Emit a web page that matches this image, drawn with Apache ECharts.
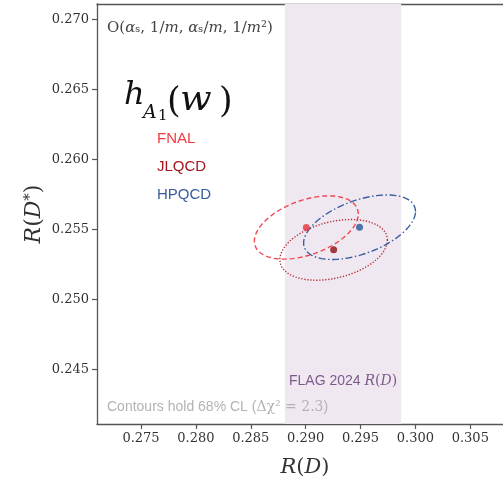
<!DOCTYPE html>
<html>
<head>
<meta charset="utf-8">
<script src="https://cdn.jsdelivr.net/npm/echarts@6/dist/echarts.min.js"></script>
<style>html,body{margin:0;padding:0;background:#fff}#c{width:503px;height:480px}</style>
</head>
<body>
<div id="c"></div>
<script>
// ---- data ----
const groups = ['FNAL', 'JLQCD', 'HPQCD'];
const rD = [0.29006, 0.29255, 0.29491];        // central R(D)
const rDstar = [0.25514, 0.25354, 0.25516];    // central R(D*)
const sigRD = [0.00312, 0.00323, 0.00336];     // 1-sigma R(D)
const sigRDstar = [0.00149, 0.00143, 0.00152]; // 1-sigma R(D*)
const corr = [0.43, 0.32, 0.49];               // correlation
const deltaChi2 = 2.3;
const flagBand = [0.2881, 0.2987];             // FLAG 2024 R(D) band
const xTicks = [0.275, 0.280, 0.285, 0.290, 0.295, 0.300, 0.305];
const yTicks = [0.245, 0.250, 0.255, 0.260, 0.265, 0.270];
const xRange = [0.27099, 0.30798];
const yRange = [0.24109, 0.27112];

// ---- styles ----
const lineColors = ['#f0484f', '#b4323a', '#3a5f9e'];
const pointColors = ['#e8303a', '#8c0c14', '#2a5598'];
const labelColors = ['#f03a44', '#a3161c', '#3a5c9c'];
const dashes = [[5, 3], [1.3, 1.7], [7, 2.5, 1.5, 2.5]];

const chart = echarts.init(document.getElementById('c'), null, {renderer: 'canvas'});

const ellipseData = groups.map((g, i) => [rD[i], rDstar[i], sigRD[i], sigRDstar[i], corr[i]]);
const pointData = groups.map((g, i) => ({value: [rD[i], rDstar[i]], itemStyle: {color: pointColors[i]}}));

const serif = '"DejaVu Serif", "Liberation Serif", serif';
const sans = '"Liberation Sans", Arial, sans-serif';
const purple = '#7d5a8c';
const grey = '#b3b3b3';

const graphics = [
  {type: 'text', z: 100, x: 107, y: 28, style: {
    text: '{r|O(}{i|α}{r|ₛ, 1/}{i|m}{r|, }{i|α}{r|ₛ/}{i|m}{r|, 1/}{i|m}{r|²)}', verticalAlign: 'middle',
    rich: {r: {font: '15px ' + serif, fill: '#444'}, i: {font: 'italic 15px ' + serif, fill: '#444'}}
  }},
  // h_{A_1}(w)
  {type: 'text', z: 100, x: 124, y: 96, style: {text: 'h', font: 'italic 32px ' + serif, fill: '#111', verticalAlign: 'middle'}},
  {type: 'text', z: 100, x: 143, y: 113, style: {text: 'A', font: 'italic 19px ' + serif, fill: '#111', verticalAlign: 'middle'}},
  {type: 'text', z: 100, x: 158, y: 116, style: {text: '1', font: '15px ' + serif, fill: '#111', verticalAlign: 'middle'}},
  {type: 'text', z: 100, x: 167, y: 103, style: {text: '(', font: '35px ' + serif, fill: '#111', verticalAlign: 'middle'}},
  {type: 'text', z: 100, x: 180, y: 101, scaleX: 1.12, style: {text: 'w', font: 'italic 33px ' + serif, fill: '#111', verticalAlign: 'middle'}},
  {type: 'text', z: 100, x: 219, y: 103, style: {text: ')', font: '35px ' + serif, fill: '#111', verticalAlign: 'middle'}},
  {type: 'text', z: 100, x: 157, y: 139, style: {text: groups[0], font: '15px ' + sans, fill: labelColors[0], verticalAlign: 'middle'}},
  {type: 'text', z: 100, x: 157, y: 167, style: {text: groups[1], font: '15px ' + sans, fill: labelColors[1], verticalAlign: 'middle'}},
  {type: 'text', z: 100, x: 157, y: 195, style: {text: groups[2], font: '15px ' + sans, fill: labelColors[2], verticalAlign: 'middle'}},
  {type: 'text', z: 100, x: 289, y: 381, style: {
    text: '{a|FLAG 2024 }{b|R}{c|(}{b|D}{c|)}', verticalAlign: 'middle',
    rich: {a: {font: '14px ' + sans, fill: purple}, b: {font: 'italic 14px ' + serif, fill: purple}, c: {font: '14px ' + serif, fill: purple}}
  }},
  {type: 'text', z: 100, x: 107, y: 407, style: {
    text: '{a|Contours hold 68% CL (}{b|Δχ² = 2.3}{a|)}', verticalAlign: 'middle',
    rich: {a: {font: '14px ' + sans, fill: grey}, b: {font: '14px ' + serif, fill: grey}}
  }}
];

const axisLineStyle = {color: '#555', width: 1.3};

const option = {
  animation: false,
  backgroundColor: '#fff',
  grid: {left: 97, right: 0, top: 4, bottom: 56, show: false, containLabel: false, outerBoundsMode: 'none'},
  xAxis: [{
    type: 'value', min: xRange[0], max: xRange[1],
    name: '{i|R}{n|(}{i|D}{n|)}', nameLocation: 'middle', nameGap: 33,
    nameTextStyle: {padding: [0, 0, 0, 10], rich: {i: {fontFamily: serif, fontStyle: 'italic', fontSize: 21, color: '#333'}, n: {fontFamily: serif, fontSize: 21, color: '#333'}}},
    axisLine: {show: true, onZero: false, lineStyle: axisLineStyle},
    axisTick: {show: true, length: 5, customValues: xTicks, lineStyle: {color: '#555', width: 1.2}},
    axisLabel: {customValues: xTicks, formatter: v => v.toFixed(3), fontFamily: serif, fontSize: 13, color: '#333', margin: 8},
    splitLine: {show: false}
  }, {
    type: 'value', position: 'top', min: xRange[0], max: xRange[1],
    axisLine: {show: true, onZero: false, lineStyle: axisLineStyle},
    axisTick: {show: false}, axisLabel: {show: false}, splitLine: {show: false}
  }],
  yAxis: {
    type: 'value', min: yRange[0], max: yRange[1],
    name: '{i|R}{n|(}{i|D}{s|*}{n|)}', nameLocation: 'middle', nameGap: 52, nameMoveOverlap: false,
    nameTextStyle: {rich: {i: {fontFamily: serif, fontStyle: 'italic', fontSize: 22, color: '#333'}, n: {fontFamily: serif, fontSize: 22, color: '#333'}, s: {fontFamily: serif, fontSize: 15, color: '#333', verticalAlign: 'top'}}},
    axisLine: {show: true, onZero: false, lineStyle: axisLineStyle},
    axisTick: {show: true, length: 5, customValues: yTicks, lineStyle: {color: '#555', width: 1.2}},
    axisLabel: {customValues: yTicks, formatter: v => v.toFixed(3), fontFamily: serif, fontSize: 13, color: '#333', margin: 8},
    splitLine: {show: false}
  },
  series: [
    {
      type: 'line', data: [], z: 1, silent: true,
      markArea: {silent: true, itemStyle: {color: '#f0e8f1'}, data: [[{xAxis: flagBand[0], yAxis: yRange[0]}, {xAxis: flagBand[1], yAxis: yRange[1]}]]}
    },
    {
      type: 'custom', z: 3, silent: true,
      encode: {x: 0, y: 1},
      data: ellipseData,
      renderItem: function (params, api) {
        const idx = params.dataIndex;
        const x0 = api.value(0), y0 = api.value(1), sx = api.value(2), sy = api.value(3), r = api.value(4);
        const k = Math.sqrt(deltaChi2);
        const pts = [];
        const n = 160;
        for (let j = 0; j <= n; j++) {
          const t = j / n * 2 * Math.PI;
          pts.push(api.coord([x0 + k * sx * Math.cos(t), y0 + k * sy * (r * Math.cos(t) + Math.sqrt(1 - r * r) * Math.sin(t))]));
        }
        return {type: 'polyline', shape: {points: pts}, style: {fill: null, stroke: lineColors[idx], lineWidth: 1.4, lineDash: dashes[idx]}};
      }
    },
    {
      type: 'scatter', z: 4, symbol: 'circle', symbolSize: 7, silent: true,
      data: pointData
    }
  ],
  graphic: graphics
};
chart.setOption(option);
</script>
</body>
</html>
